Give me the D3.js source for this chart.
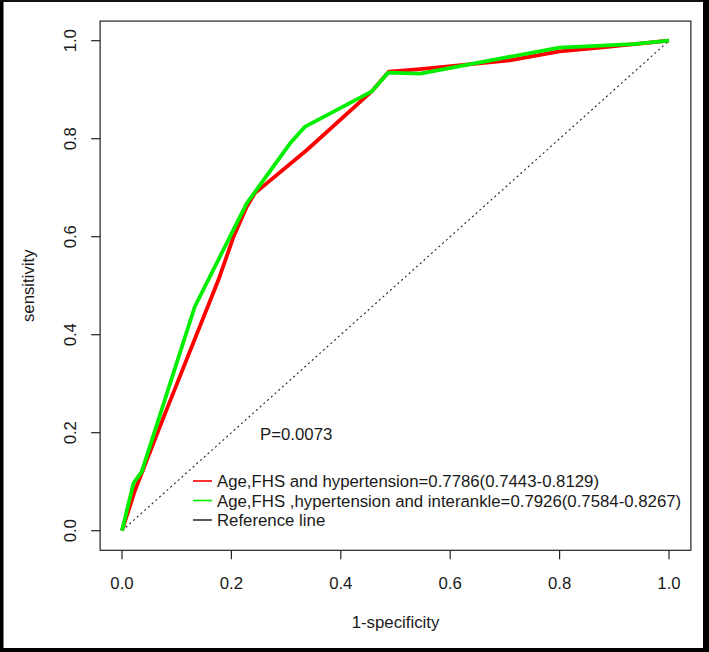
<!DOCTYPE html>
<html>
<head>
<meta charset="utf-8">
<script src="https://cdn.jsdelivr.net/npm/d3@7"></script>
<style>
  body { margin: 0; background: #fff; }
  svg { display: block; font-family: "Liberation Sans", Arial, sans-serif; }
</style>
</head>
<body>
<div class="chart"></div>
<script>
// ROC curve points (1-specificity, sensitivity)
const model1Fpr = [0, 0.024, 0.036, 0.079, 0.176, 0.204, 0.228, 0.243, 0.338, 0.456, 0.488, 0.545, 0.709, 0.80, 0.874, 1];
const model1Tpr = [0, 0.083, 0.117, 0.240, 0.511, 0.600, 0.661, 0.689, 0.777, 0.896, 0.937, 0.942, 0.960, 0.978, 0.986, 1];
const model2Fpr = [0, 0.021, 0.036, 0.133, 0.228, 0.307, 0.334, 0.456, 0.487, 0.545, 0.703, 0.80, 0.934, 1];
const model2Tpr = [0, 0.097, 0.120, 0.457, 0.668, 0.790, 0.824, 0.896, 0.935, 0.933, 0.966, 0.986, 0.993, 1];
const refLine = [0, 1];

const xTicks = [0, 0.2, 0.4, 0.6, 0.8, 1.0];
const yTicks = [0, 0.2, 0.4, 0.6, 0.8, 1.0];
const legendLabels = [
  "Age,FHS and hypertension=0.7786(0.7443-0.8129)",
  "Age,FHS ,hypertension and interankle=0.7926(0.7584-0.8267)",
  "Reference line"
];
const legendColors = ["#ff0000", "#00ee00", "#333333"];
const pLabel = "P=0.0073";

let W = 709, H = 652;
let svg = d3.select('.chart').append('svg')
  .attr('width', W).attr('height', H);

// outer frame
svg.append('rect').attr('x', 0).attr('y', 0).attr('width', W).attr('height', H).attr('fill', '#fff');
svg.append('rect').attr('x', 0).attr('y', 0).attr('width', 3.5).attr('height', H).attr('fill', '#000');
svg.append('rect').attr('x', 0).attr('y', 0).attr('width', W).attr('height', 2).attr('fill', '#111');
svg.append('rect').attr('x', 703).attr('y', 0).attr('width', 6).attr('height', H).attr('fill', '#000');
svg.append('rect').attr('x', 0).attr('y', 648).attr('width', W).attr('height', 4).attr('fill', '#000');

// scales (R style: 4% padding around data range)
let x = d3.scaleLinear().domain([0, 1]).range([122, 669]);
let y = d3.scaleLinear().domain([0, 1]).range([530.7, 40.7]);
let x0 = x(-0.04), x1 = x(1.04), y0 = y(-0.04), y1 = y(1.04);

// plot box
svg.append('rect')
  .attr('x', x0).attr('y', y1)
  .attr('width', x1 - x0).attr('height', y0 - y1)
  .attr('fill', 'none').attr('stroke', '#222').attr('stroke-width', 1.2);

const fs = 16.8;
// x axis ticks
let xg = svg.append('g');
xg.selectAll('line').data(xTicks).enter().append('line')
  .attr('x1', d => x(d)).attr('x2', d => x(d))
  .attr('y1', y0).attr('y2', y0 + 9)
  .attr('stroke', '#222').attr('stroke-width', 1.2);
xg.selectAll('text').data(xTicks).enter().append('text')
  .attr('x', d => x(d)).attr('y', 588.5)
  .attr('text-anchor', 'middle').attr('font-size', fs).attr('fill', '#1a1a1a')
  .text(d => d3.format('.1f')(d));

// y axis ticks
let yg = svg.append('g');
yg.selectAll('line').data(yTicks).enter().append('line')
  .attr('x1', x0 - 9).attr('x2', x0)
  .attr('y1', d => y(d)).attr('y2', d => y(d))
  .attr('stroke', '#222').attr('stroke-width', 1.2);
yg.selectAll('text').data(yTicks).enter().append('text')
  .attr('transform', d => `translate(76,${y(d)}) rotate(-90)`)
  .attr('text-anchor', 'middle').attr('font-size', fs).attr('fill', '#1a1a1a')
  .text(d => d3.format('.1f')(d));

// axis titles
svg.append('text')
  .attr('x', (x0 + x1) / 2).attr('y', 628)
  .attr('text-anchor', 'middle').attr('font-size', fs).attr('fill', '#1a1a1a')
  .text('1-specificity');
svg.append('text')
  .attr('transform', `translate(33.5,${(y0 + y1) / 2}) rotate(-90)`)
  .attr('text-anchor', 'middle').attr('font-size', fs).attr('fill', '#1a1a1a')
  .text('sensitivity');

// reference line (dotted diagonal)
svg.append('line')
  .attr('x1', x(refLine[0])).attr('y1', y(refLine[0]))
  .attr('x2', x(refLine[1])).attr('y2', y(refLine[1]))
  .attr('stroke', '#222').attr('stroke-width', 1.1)
  .attr('stroke-dasharray', '2,3');

// curves
let line = d3.line().x(d => x(d[0])).y(d => y(d[1]));
svg.append('path')
  .attr('d', line(d3.zip(model1Fpr, model1Tpr)))
  .attr('fill', 'none').attr('stroke', '#ff0000').attr('stroke-width', 3.8)
  .attr('stroke-linejoin', 'round');
svg.append('path')
  .attr('d', line(d3.zip(model2Fpr, model2Tpr)))
  .attr('fill', 'none').attr('stroke', '#00ee00').attr('stroke-width', 3.8)
  .attr('stroke-linejoin', 'round');

// P value
svg.append('text')
  .attr('x', 260).attr('y', 440)
  .attr('font-size', fs).attr('fill', '#1a1a1a')
  .text(pLabel);

// legend
let lg = svg.selectAll('g.legend').data(legendLabels).enter().append('g')
  .attr('class', 'legend')
  .attr('transform', (d, i) => `translate(0,${487 + i * 19.5})`);
lg.append('line')
  .attr('x1', 193).attr('x2', 212).attr('y1', -6).attr('y2', -6)
  .attr('stroke', (d, i) => legendColors[i]).attr('stroke-width', 1.6);
lg.append('text')
  .attr('x', 217).attr('y', 0)
  .attr('font-size', fs).attr('fill', '#1a1a1a')
  .text(d => d);
</script>
</body>
</html>
